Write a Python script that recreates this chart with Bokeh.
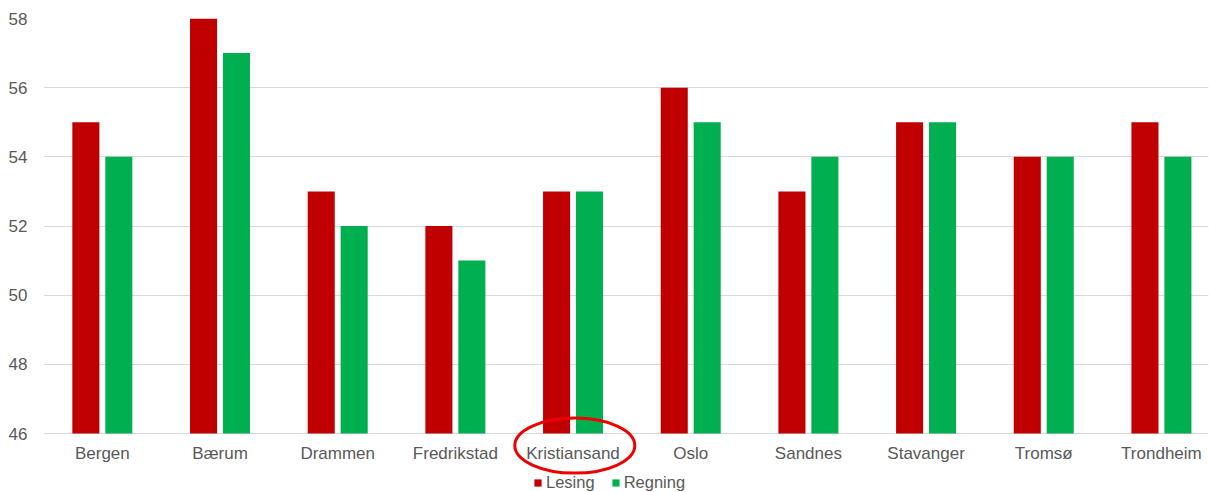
import numpy as np
from bokeh.plotting import figure
from bokeh.models import (ColumnDataSource, Legend, LegendItem, FixedTicker,
                          Range1d)
from bokeh.core.properties import value
from bokeh.embed import file_html
from bokeh.resources import INLINE

cities = ["Bergen", "Bærum", "Drammen", "Fredrikstad", "Kristiansand",
          "Oslo", "Sandnes", "Stavanger", "Tromsø", "Trondheim"]
lesing = [55, 58, 53, 52, 53, 56, 53, 55, 54, 55]
regning = [54, 57, 52, 51, 53, 55, 54, 55, 54, 54]
y_ticks = [46, 48, 50, 52, 54, 56, 58]
highlight = "Kristiansand"

FONT = "Liberation Sans"
TXT = "#595959"
GRID = "#d9d9d9"
BASE = 46

xc = np.arange(len(cities)) + 0.5
src = ColumnDataSource(dict(
    x=xc, xl=xc - 0.14, xr=xc + 0.14,
    lesing=lesing, regning=regning, city=cities,
    base=[BASE] * len(cities),
))

p = figure(width=1209, height=492,
           output_backend="svg", toolbar_location=None,
           x_range=Range1d(0, 9.90), y_range=Range1d(44.294, 58),
           min_border_left=43, min_border_right=1, min_border_top=18,
           min_border_bottom=0)
p.outline_line_color = None
p.background_fill_color = "white"
p.border_fill_color = "white"

r1 = p.vbar(x="xl", top="lesing", bottom=BASE, width=0.23, source=src,
            fill_color="#C00000", line_color=None)
r2 = p.vbar(x="xr", top="regning", bottom=BASE, width=0.23, source=src,
            fill_color="#00B050", line_color=None)

# category labels below the baseline
p.text(x="x", y="base", text="city", source=src, y_offset=20,
       text_align="center", text_baseline="middle",
       text_font=value(FONT), text_font_size="17px", text_color=TXT)

p.xaxis.visible = False

p.yaxis.ticker = FixedTicker(ticks=y_ticks)
p.yaxis.major_tick_line_color = None
p.yaxis.minor_tick_line_color = None
p.yaxis.major_tick_out = 0
p.yaxis.major_tick_in = 0
p.yaxis.axis_line_color = None
p.yaxis.major_label_standoff = 16
p.yaxis.major_label_text_font = FONT
p.yaxis.major_label_text_font_size = "17px"
p.yaxis.major_label_text_color = TXT

p.xgrid.grid_line_color = None
p.ygrid.grid_line_color = GRID
p.ygrid.ticker = FixedTicker(ticks=y_ticks)

legend = Legend(items=[LegendItem(label="Lesing", renderers=[r1]),
                       LegendItem(label="Regning", renderers=[r2])],
                orientation="horizontal", location=(490, 0),
                glyph_width=9, glyph_height=9, label_standoff=4,
                spacing=16, padding=0, margin=0,
                label_text_font=FONT, label_text_font_size="16.5px",
                label_text_color=TXT, border_line_color=None,
                background_fill_alpha=0, label_height=16)
p.add_layout(legend, "center")

# highlight ellipse around the Kristiansand label
i = cities.index(highlight)
p.ellipse(x=[xc[i] + 0.015], y=[45.65], width=120, height=55,
          width_units="screen", height_units="screen",
          fill_alpha=0, line_color="#EE0000", line_width=3)

open("out.html", "w").write(file_html(p, INLINE))
